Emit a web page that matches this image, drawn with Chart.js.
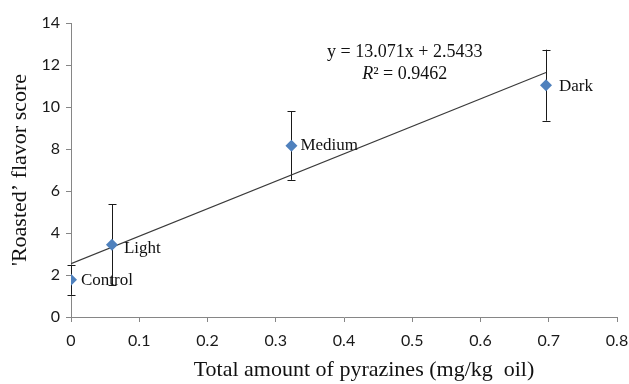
<!DOCTYPE html>
<html>
<head>
<meta charset="utf-8">
<script src="https://cdn.jsdelivr.net/npm/chart.js@4/dist/chart.umd.min.js"></script>
<style>
	html, body { margin: 0; padding: 0; background: #fff; }
	#chart { display: block; }
</style>
</head>
<body>
<canvas id="chart" width="629" height="384"></canvas>
<script>
const samples = ["Control", "Light", "Medium", "Dark"];
const pyrazines = [0, 0.06, 0.323, 0.696];
const flavorScore = [1.77, 3.44, 8.16, 11.04];
const flavorError = [0.71, 1.93, 1.63, 1.69];
const xTicks = [0, 0.1, 0.2, 0.3, 0.4, 0.5, 0.6, 0.7, 0.8];
const yTicks = [0, 2, 4, 6, 8, 10, 12, 14];
const slope = 13.071;
const intercept = 2.5433;
const rSquared = 0.9462;
const equationAt = { x: 0.489, y: 12.6 };
const xTitle = "Total amount of pyrazines (mg/kg  oil)";
const yTitle = "'Roasted\u2019 flavor score";

const serif = "'Liberation Serif', 'Times New Roman', serif";
const axisColor = "#868686";

/*trendline end points over the data range*/
const xMax = Math.max(...pyrazines);
const trendPoints = [
	{ x: 0, y: intercept },
	{ x: xMax, y: slope * xMax + intercept },
];

const errorBars = {
	id: "errorBars",
	beforeDatasetsDraw(chart) {
		const ctx = chart.ctx;
		const xs = chart.scales.x;
		const ys = chart.scales.y;
		ctx.save();
		ctx.strokeStyle = "#1a1a1a";
		ctx.lineWidth = 1;
		pyrazines.forEach((v, i) => {
			const px = Math.round(xs.getPixelForValue(v)) + 0.5;
			const top = ys.getPixelForValue(flavorScore[i] + flavorError[i]);
			const bottom = ys.getPixelForValue(flavorScore[i] - flavorError[i]);
			ctx.beginPath();
			ctx.moveTo(px, top);
			ctx.lineTo(px, bottom);
			ctx.moveTo(px - 4, Math.round(top) + 0.5);
			ctx.lineTo(px + 4, Math.round(top) + 0.5);
			ctx.moveTo(px - 4, Math.round(bottom) + 0.5);
			ctx.lineTo(px + 4, Math.round(bottom) + 0.5);
			ctx.stroke();
		});
		ctx.restore();
	},
	afterDatasetsDraw(chart) {
		const ctx = chart.ctx;
		const xs = chart.scales.x;
		const ys = chart.scales.y;
		const shifts = [[10, 1], [12, 4], [9, 0], [13, 1]];
		ctx.save();
		ctx.fillStyle = "#111";
		ctx.font = "17px " + serif;
		ctx.textBaseline = "middle";
		ctx.textAlign = "left";
		samples.forEach((name, i) => {
			const px = xs.getPixelForValue(pyrazines[i]);
			const py = ys.getPixelForValue(flavorScore[i]);
			ctx.fillText(name, px + shifts[i][0], py + shifts[i][1]);
		});
		/*trendline equation*/
		const ex = xs.getPixelForValue(equationAt.x);
		const ey = ys.getPixelForValue(equationAt.y);
		ctx.font = "18px " + serif;
		ctx.textAlign = "center";
		ctx.fillText(`y = ${slope}x + ${intercept}`, ex, ey);
		const rest = "\u00b2 = " + rSquared;
		ctx.font = "italic 18px " + serif;
		const rW = ctx.measureText("R").width;
		ctx.font = "18px " + serif;
		const sW = ctx.measureText(rest).width;
		const sx = ex - (rW + sW) / 2;
		ctx.textAlign = "left";
		ctx.font = "italic 18px " + serif;
		ctx.fillText("R", sx, ey + 22);
		ctx.font = "18px " + serif;
		ctx.fillText(rest, sx + rW, ey + 22);
		/*x axis title, set a little right of centre as in the source*/
		const area = chart.chartArea;
		ctx.font = "22px " + serif;
		ctx.textAlign = "center";
		ctx.fillText(xTitle, (area.left + area.right) / 2 + 20, chart.height - 14);
		ctx.restore();
	},
};

function axisStyle(tickValues) {
	return {
		type: "linear",
		min: tickValues[0],
		max: tickValues[tickValues.length - 1],
		afterBuildTicks: (scale) => {
			scale.ticks = tickValues.map((v) => ({ value: v }));
		},
		grid: {
			display: true,
			drawOnChartArea: false,
			drawTicks: true,
			tickLength: 5,
			color: axisColor,
		},
		border: { display: true, color: axisColor, width: 1 },
		ticks: {
			color: "#1a1a1a",
			font: { family: "Lato, 'Liberation Sans', sans-serif", size: 16 },
			padding: 4,
			callback: (v) => String(v),
		},
	};
}

const xAxis = axisStyle(xTicks);
xAxis.ticks.padding = 9;
xAxis.afterFit = (scale) => {
	scale.height = 67;
	scale.paddingLeft = 0;
	scale.paddingRight = 0;
};
const yAxis = axisStyle(yTicks);
yAxis.ticks.padding = 6;
yAxis.title = {
	display: true,
	text: yTitle,
	color: "#111",
	font: { family: serif, size: 22 },
	padding: { top: 7, bottom: 0 },
};
yAxis.afterFit = (scale) => { scale.width = 71; };

new Chart(document.getElementById("chart"), {
	type: "scatter",
	data: {
		datasets: [
			{
				type: "line",
				label: "Trend",
				data: trendPoints,
				borderColor: "#3a3a3a",
				borderWidth: 1.2,
				pointRadius: 0,
				fill: false,
				order: 2,
			},
			{
				label: "Samples",
				data: pyrazines.map((x, i) => ({ x, y: flavorScore[i] })),
				pointStyle: "rectRot",
				pointRadius: 6,
				backgroundColor: "#4f81bd",
				borderColor: "#4f81bd",
				borderWidth: 0,
				order: 1,
			},
		],
	},
	options: {
		responsive: false,
		animation: false,
		layout: { padding: { top: 23, right: 12, left: 0, bottom: 0 } },
		plugins: {
			legend: { display: false },
			tooltip: { enabled: false },
		},
		scales: { x: xAxis, y: yAxis },
	},
	plugins: [errorBars],
});
</script>
</body>
</html>
